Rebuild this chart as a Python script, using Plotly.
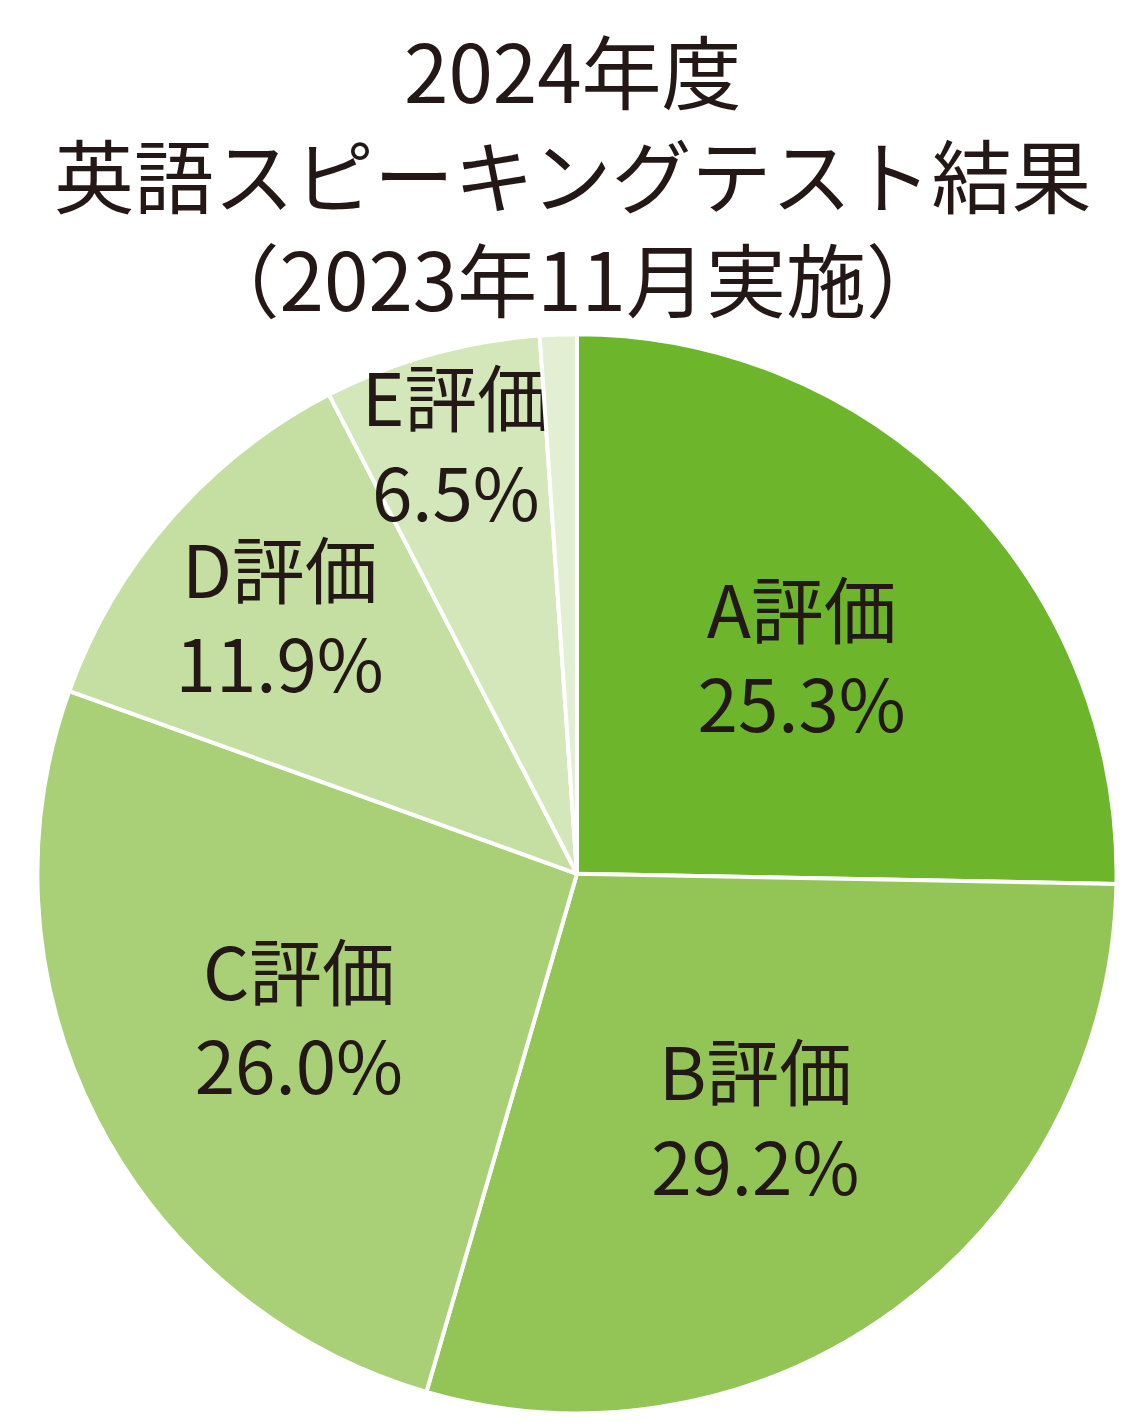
import plotly.graph_objects as go

grades = ["A評価", "B評価", "C評価", "D評価", "E評価", "その他"]
shares = [25.3, 29.2, 26.0, 11.9, 6.5, 1.1]
colors = ["#6db52b", "#92c556", "#aad077", "#c5dfa3", "#d4e7bb", "#e2efd3"]
texts = [f"{g}<br>{v:.1f}%" if i < 5 else "" for i, (g, v) in enumerate(zip(grades, shares))]

fig = go.Figure(go.Pie(
    labels=grades, values=shares, text=texts, textinfo="text",
    sort=False, direction="clockwise", rotation=0,
    marker=dict(colors=colors, line=dict(color="white", width=4)),
    textposition="inside", insidetextorientation="horizontal",
    textfont=dict(size=76, color="#231815", family="Noto Sans CJK JP"),
    domain=dict(x=[0.026, 0.981], y=[0.012, 0.772]),
    showlegend=False, hoverinfo="label+value",
))
fig.update_layout(
    width=1130, height=1424, margin=dict(l=0, r=0, t=0, b=0),
    paper_bgcolor="white", uniformtext=dict(minsize=60, mode="show"),
    annotations=[dict(
        text="2024年度<br>英語スピーキングテスト結果<br>（2023年11月実施）",
        x=0.5, y=1.0, xref="paper", yref="paper", xanchor="center", yanchor="top",
        showarrow=False, font=dict(size=80, color="#231815", family="Noto Sans CJK JP"),
    )],
)
fig.write_html("out.html")
